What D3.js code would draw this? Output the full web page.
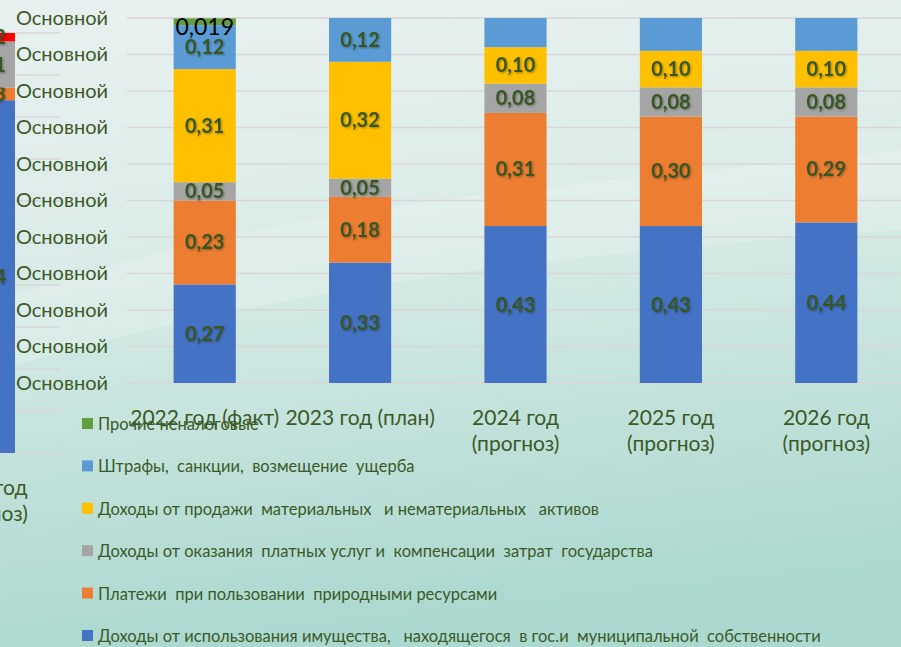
<!DOCTYPE html>
<html>
<head>
<meta charset="utf-8">
<script src="https://cdn.jsdelivr.net/npm/d3@7"></script>
<style>
  html, body { margin: 0; padding: 0; overflow: hidden; }
  svg { display: block; font-family: Lato, "Open Sans", sans-serif; }
</style>
</head>
<body>
<div id="chart"></div>
<script>
// Categories (x axis), each split into its visible lines
const categories = ["2022 год (факт)", "2023 год (план)", "2024 год (прогноз)", "2025 год (прогноз)", "2026 год (прогноз)"];
const categoryLines = [["2022 год (факт)"], ["2023 год (план)"], ["2024 год", "(прогноз)"], ["2025 год", "(прогноз)"], ["2026 год", "(прогноз)"]];

// Series values, bottom of the stack first
const propertyIncome   = [0.27, 0.33, 0.43, 0.43, 0.44];
const naturalResources = [0.23, 0.18, 0.31, 0.30, 0.29];
const paidServices     = [0.05, 0.05, 0.08, 0.08, 0.08];
const assetSales       = [0.31, 0.32, 0.10, 0.10, 0.10];
const finesDamages     = [0.12, 0.12, 0.08, 0.09, 0.09];
const otherNonTax      = [0.019, 0, 0, 0, 0];
const finesLabelShown  = [true, true, false, false, false];

// Legend names, top to bottom
const legendNames = [
  "Прочие неналоговые",
  "Штрафы,  санкции,  возмещение  ущерба",
  "Доходы от продажи  материальных   и нематериальных   активов",
  "Доходы от оказания  платных услуг и  компенсации  затрат  государства",
  "Платежи  при пользовании  природными ресурсами",
  "Доходы от использования имущества,   находящегося  в гос.и  муниципальной  собственности"
];

// Y tick values and their (repeated) label
const yTicks = [0, 0.1, 0.2, 0.3, 0.4, 0.5, 0.6, 0.7, 0.8, 0.9, 1.0];
const yTickLabel = "Основной";

// Partly visible chart on the left edge
const leftCategoryLines = ["2024 год", "(прогноз)"];
const leftValues = [0.84, 0.03, 0.11, 0.02];

const W = 901, H = 647;
const textGreen = "#3b5a27";
const labelGreen = "#375623";

const keys = ["property", "natural", "services", "sales", "fines", "other"];
const color = d3.scaleOrdinal()
    .domain(keys)
    .range(["#4472C4", "#ED7D31", "#A5A5A5", "#FFC000", "#5B9BD5", "#639E3E"]);

const rows = categories.map((c, i) => ({
    category: c,
    property: propertyIncome[i],
    natural: naturalResources[i],
    services: paidServices[i],
    sales: assetSales[i],
    fines: finesDamages[i],
    other: otherNonTax[i],
    index: i
}));

const svg = d3.select("#chart").append("svg")
    .attr("width", W)
    .attr("height", H);

// Background
const defs = svg.append("defs");
const bg = defs.append("linearGradient")
    .attr("id", "bg").attr("x1", 0).attr("y1", 0).attr("x2", 0.15).attr("y2", 1);
bg.append("stop").attr("offset", "0%").attr("stop-color", "#e9f1f0");
bg.append("stop").attr("offset", "40%").attr("stop-color", "#dbece8");
bg.append("stop").attr("offset", "100%").attr("stop-color", "#abd8cf");

const shadow = defs.append("filter").attr("id", "shadow")
    .attr("x", "-20%").attr("y", "-20%").attr("width", "140%").attr("height", "140%");
shadow.append("feDropShadow")
    .attr("dx", 1).attr("dy", 1).attr("stdDeviation", 0.8)
    .attr("flood-color", "#000").attr("flood-opacity", 0.35);

svg.append("rect").attr("width", W).attr("height", H).attr("fill", "url(#bg)");
svg.append("path")
    .attr("d", "M0,300 C150,250 300,215 520,190 C700,170 820,160 901,150 L901,230 C760,240 560,255 380,285 C220,310 100,340 0,370 Z")
    .attr("fill", "#ffffff").attr("opacity", 0.18);

// ---- Left, partly visible chart ----
const yLeft = d3.scaleLinear().domain([0, 1]).range([453, 33]);
const leftColors = ["#4472C4", "#ED7D31", "#A5A5A5", "#FF0000"];

svg.append("g").selectAll("line")
    .data(yTicks)
    .join("line")
    .attr("x1", -60).attr("x2", 60)
    .attr("y1", d => yLeft(d)).attr("y2", d => yLeft(d))
    .attr("stroke", "#d9d6d8").attr("stroke-width", 1.5);

let acc = 0;
leftValues.forEach((v, i) => {
    const y0 = yLeft(acc), y1 = yLeft(acc + v);
    svg.append("rect")
        .attr("x", -47).attr("width", 62)
        .attr("y", y1).attr("height", y0 - y1)
        .attr("fill", leftColors[i]);
    svg.append("text")
        .attr("x", -14).attr("y", (y0 + y1) / 2)
        .attr("dy", "0.35em")
        .attr("text-anchor", "middle")
        .attr("font-weight", "bold").attr("font-size", 20)
        .attr("fill", labelGreen)
        .attr("filter", "url(#shadow)")
        .text(d3.format(".2f")(v).replace(".", ","));
    acc += v;
});

leftCategoryLines.forEach((t, i) => {
    svg.append("text")
        .attr("x", -16).attr("y", 495 + i * 26)
        .attr("text-anchor", "middle")
        .attr("font-size", 21)
        .attr("fill", textGreen)
        .text(t);
});

// ---- Main chart ----
const x = d3.scaleBand()
    .domain(categories)
    .range([127, 904])
    .paddingInner(0.6)
    .paddingOuter(0.3);

const y = d3.scaleLinear()
    .domain([0, 1])
    .range([383, 18]);

// Gridlines
svg.append("g").selectAll("line")
    .data(yTicks)
    .join("line")
    .attr("x1", 127).attr("x2", W)
    .attr("y1", d => y(d)).attr("y2", d => y(d))
    .attr("stroke", "#d9d6d8").attr("stroke-width", 1.5);

// Y axis with repeated labels
const yAxis = svg.append("g")
    .attr("transform", "translate(108,0)")
    .call(d3.axisLeft(y).tickValues(yTicks).tickFormat(() => yTickLabel).tickSize(0).tickPadding(0));
yAxis.select(".domain").remove();
yAxis.selectAll("text")
    .attr("font-family", "Lato, sans-serif")
    .attr("font-size", 20)
    .attr("fill", textGreen);

// Stacked bars
const stack = d3.stack().keys(keys);
const series = stack(rows);

const layers = svg.append("g").selectAll("g")
    .data(series)
    .join("g")
    .attr("fill", d => color(d.key));

layers.selectAll("rect")
    .data(d => d)
    .join("rect")
    .attr("x", d => x(d.data.category))
    .attr("y", d => y(d[1]))
    .attr("width", x.bandwidth())
    .attr("height", d => y(d[0]) - y(d[1]));

// Data labels
series.forEach(s => {
    s.forEach(d => {
        const v = d.data[s.key];
        if (!v) return;
        if (s.key === "fines" && !finesLabelShown[d.data.index]) return;
        const cx = x(d.data.category) + x.bandwidth() / 2;
        const cy = (y(d[0]) + y(d[1])) / 2;
        if (s.key === "other") {
            svg.append("text")
                .attr("x", cx).attr("y", cy + 13)
                .attr("text-anchor", "middle")
                .attr("font-size", 23)
                .attr("fill", "#000")
                .text(String(v).replace(".", ","));
        } else {
            svg.append("text")
                .attr("x", cx).attr("y", cy)
                .attr("dy", "0.35em")
                .attr("text-anchor", "middle")
                .attr("font-weight", "bold").attr("font-size", 20)
                .attr("fill", labelGreen)
                .attr("filter", "url(#shadow)")
                .text(d3.format(".2f")(v).replace(".", ","));
        }
    });
});

// Category labels
categories.forEach((c, i) => {
    categoryLines[i].forEach((t, j) => {
        svg.append("text")
            .attr("x", x(c) + x.bandwidth() / 2)
            .attr("y", 425 + j * 26)
            .attr("text-anchor", "middle")
            .attr("font-size", 21)
            .attr("fill", textGreen)
            .text(t);
    });
});

// Legend
const legendKeys = keys.slice().reverse();
const legend = svg.append("g").attr("transform", "translate(82,0)");
legendNames.forEach((name, i) => {
    const cy = 424 + i * 42.4;
    legend.append("rect")
        .attr("x", 0).attr("y", cy - 6)
        .attr("width", 11).attr("height", 11)
        .attr("fill", color(legendKeys[i]));
    legend.append("text")
        .attr("x", 16).attr("y", cy + 6)
        .attr("font-size", 16.5)
        .attr("fill", textGreen)
        .style("white-space", "pre")
        .text(name);
});
</script>
</body>
</html>
